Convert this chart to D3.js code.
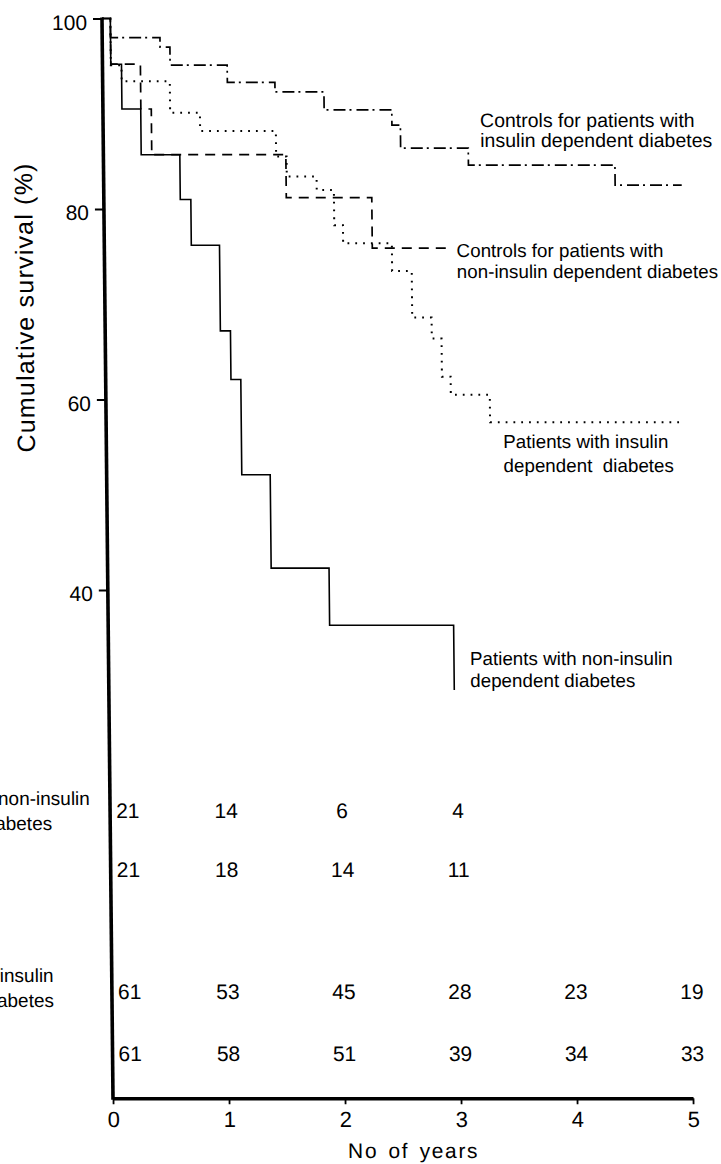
<!DOCTYPE html>
<html><head><meta charset="utf-8">
<script src="https://cdn.jsdelivr.net/npm/d3@7"></script>
<style>
html,body{margin:0;padding:0;background:#fff;}
svg{display:block;font-family:"Liberation Sans",Arial,Helvetica,sans-serif;}
</style></head><body>
<svg id="chart" width="721" height="1164"></svg>
<script>
// ---------- data ----------
const yearTicks = [0, 1, 2, 3, 4, 5];
const survivalTicks = [40, 60, 80, 100];

// Patients with non-insulin dependent diabetes (solid)
const timesPatientsNIDDM = [0, 0.072, 0.164, 0.326, 0.659, 0.75, 0.993, 1.08, 1.165, 1.41, 1.909, 2.978];
const survPatientsNIDDM  = [100, 95.2, 90.5, 85.7, 81.0, 76.2, 67.2, 62.1, 52.1, 42.3, 36.3, 29.5];

// Controls for patients with insulin dependent diabetes (dash-dot)
const timesControlsIDDM = [0, 0.072, 0.498, 0.583, 1.075, 1.485, 1.907, 2.49, 2.563, 3.146, 4.409, 4.983];
const survControlsIDDM  = [100, 98.0, 97.0, 95.1, 93.3, 92.3, 90.4, 88.8, 86.4, 84.6, 82.5, 82.5];

// Controls for patients with non-insulin dependent diabetes (dashed)
const timesControlsNIDDM = [0, 0.072, 0.327, 0.417, 1.573, 2.31, 2.95];
const survControlsNIDDM  = [100, 95.2, 90.5, 85.7, 81.2, 75.9, 75.9];

// Patients with insulin dependent diabetes (dotted)
const timesPatientsIDDM = [0, 0.072, 0.164, 0.579, 0.836, 1.489, 1.579, 1.836, 1.984, 2.059, 2.479, 2.648, 2.815, 2.899, 2.974, 3.31, 4.99];
const survPatientsIDDM  = [100, 95.1, 93.4, 90.1, 88.2, 85.5, 83.4, 82.0, 78.3, 76.4, 73.5, 68.6, 66.4, 62.4, 60.5, 57.6, 57.6];

// Numbers at risk
const riskPatientsNIDDM = [21, 14, 6, 4];
const riskControlsNIDDM = [21, 18, 14, 11];
const riskPatientsIDDM  = [61, 53, 45, 28, 23, 19];
const riskControlsIDDM  = [61, 58, 51, 39, 34, 33];

const groupLabelNIDDM = ["Patients with non-insulin", "dependent diabetes"];
const groupLabelIDDM  = ["Patients with insulin", "dependent diabetes"];

const labelControlsIDDM  = ["Controls for patients with", "insulin dependent diabetes"];
const labelControlsNIDDM = ["Controls for patients with", "non-insulin dependent diabetes"];
const labelPatientsIDDM  = ["Patients with insulin", "dependent  diabetes"];
const labelPatientsNIDDM = ["Patients with non-insulin", "dependent diabetes"];

const yTitle = "Cumulative survival (%)";
const xTitle = "No of years";

// ---------- layout ----------
const svg = d3.select("#chart");
const x = d3.scaleLinear().domain([0, 5]).range([102, 682]);
const y = d3.scaleLinear().domain([40, 100]).range([590, 18.5]);
const xAxisY = 1098.3;

// slight slant as in the scanned original
const g = svg.append("g")
  .attr("transform", "translate(0,19) skewX(0.584) translate(0,-19)");

// curves
const series = [
  {t: timesPatientsNIDDM, s: survPatientsNIDDM, dash: null, w: 1.6, cap: "butt"},
  {t: timesControlsIDDM,  s: survControlsIDDM,  dash: "12,4,2,5", w: 1.7, cap: "butt"},
  {t: timesControlsNIDDM, s: survControlsNIDDM, dash: "10,7", w: 1.7, cap: "butt"},
  {t: timesPatientsIDDM,  s: survPatientsIDDM,  dash: "1.8,6", w: 2, cap: "butt"}
];
const line = d3.line().x(d => x(d[0])).y(d => y(d[1])).curve(d3.curveStepAfter);
series.forEach(sr => {
  const pts = sr.t.map((t, i) => [t, sr.s[i]]);
  g.append("path").datum(pts)
    .attr("d", line)
    .attr("fill", "none")
    .attr("stroke", "#000")
    .attr("stroke-width", sr.w)
    .attr("stroke-linecap", sr.cap)
    .attr("stroke-dasharray", sr.dash);
});

// y axis
const yAxis = d3.axisLeft(y).tickValues(survivalTicks).tickSize(9).tickPadding(6).tickFormat(d3.format("d"));
const yg = g.append("g").attr("transform", `translate(${x(0)},0)`).call(yAxis);
yg.select(".domain").remove();
yg.selectAll(".tick line").attr("stroke", "#000").attr("stroke-width", 1.8);
yg.selectAll(".tick text").attr("font-size", 21).attr("fill", "#000").attr("dy", "0.5em")
  .attr("font-family", "Liberation Sans, Arial, sans-serif");
g.append("line")
  .attr("x1", x(0)).attr("x2", x(0))
  .attr("y1", y(100) - 1).attr("y2", xAxisY + 1.5)
  .attr("stroke", "#000").attr("stroke-width", 3.6);

// x axis
const xAxis = d3.axisBottom(x).tickValues(yearTicks).tickSize(6).tickPadding(7).tickSizeOuter(0).tickFormat(d3.format("d"));
const xg = g.append("g").attr("transform", `translate(0,${xAxisY})`).call(xAxis);
xg.select(".domain").attr("stroke", "#000").attr("stroke-width", 3.4);
xg.selectAll(".tick line").attr("stroke", "#000").attr("stroke-width", 1.8);
xg.selectAll(".tick text").attr("font-size", 22).attr("fill", "#000")
  .attr("font-family", "Liberation Sans, Arial, sans-serif");

// axis titles
g.append("text")
  .attr("transform", `translate(30.5,${307.5}) rotate(-90)`)
  .attr("text-anchor", "middle")
  .attr("font-size", 25)
  .attr("letter-spacing", 1.2)
  .text(yTitle);
g.append("text")
  .attr("x", (x(3) + x(4)) / 2 - 106)
  .attr("y", 1158)
  .attr("text-anchor", "middle")
  .attr("font-size", 21)
  .attr("letter-spacing", 1.6)
  .attr("word-spacing", 3)
  .text(xTitle);

// curve annotations (anchored with scales)
const annotations = [
  {lines: labelControlsIDDM,  t: 3.25,  v: 88.64, lh: 20,   fs: 19.5},
  {lines: labelControlsNIDDM, t: 3.036, v: 74.99, lh: 21.6, fs: 18.8},
  {lines: labelPatientsIDDM,  t: 3.422, v: 54.88, lh: 23.4, fs: 18.8},
  {lines: labelPatientsNIDDM, t: 3.116, v: 32.1,  lh: 21.7, fs: 18.8}
];
annotations.forEach(a => {
  const tx = g.append("text")
    .attr("x", x(a.t)).attr("y", y(a.v))
    .attr("font-size", a.fs)
    .style("white-space", "pre");
  a.lines.forEach((ln, i) => {
    tx.append("tspan").attr("x", x(a.t)).attr("dy", i === 0 ? 0 : a.lh).text(ln);
  });
});

// numbers at risk
const riskRows = [
  {vals: riskPatientsNIDDM, base: 818.3},
  {vals: riskControlsNIDDM, base: 876.7},
  {vals: riskPatientsIDDM,  base: 999},
  {vals: riskControlsIDDM,  base: 1061}
];
riskRows.forEach(r => {
  g.selectAll(null).data(r.vals).enter().append("text")
    .attr("x", (d, i) => i === 0 ? x(0) + 6 : x(yearTicks[i]))
    .attr("y", r.base)
    .attr("text-anchor", (d, i) => i === 0 ? "start" : "middle")
    .attr("font-size", 21)
    .text(d => d);
});

// group labels (cut at the left edge as in the original)
const groups = [
  {lines: groupLabelNIDDM, base: 805, lh: 25},
  {lines: groupLabelIDDM,  base: 981.7, lh: 25}
];
groups.forEach(gr => {
  const tx = g.append("text").attr("x", -123).attr("y", gr.base).attr("font-size", 19);
  gr.lines.forEach((ln, i) => {
    tx.append("tspan").attr("x", -123).attr("dy", i === 0 ? 0 : gr.lh).text(ln);
  });
});
</script>
</body></html>
